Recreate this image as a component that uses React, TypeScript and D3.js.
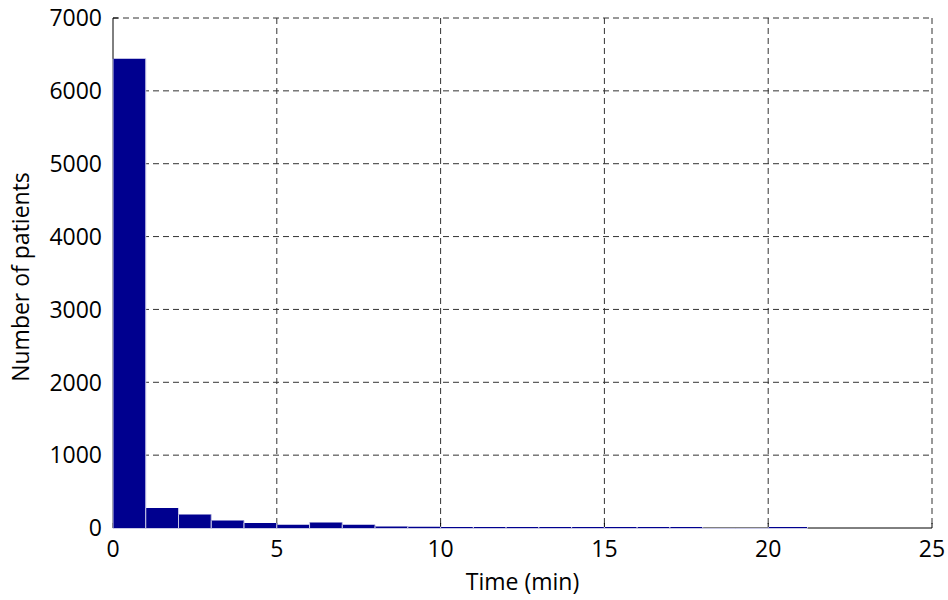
import React from "react";
import * as d3 from "d3";

// Histogram bin edges (minutes) and counts per bin
const binEdges: number[] = [0, 1, 2, 3, 4, 5, 6, 7, 8, 9, 10, 11, 12, 13, 14, 15, 16, 17, 18, 19, 20, 21.2];
const binCounts: number[] = [6440, 275, 185, 103, 70, 45, 75, 45, 20, 18, 15, 15, 15, 14, 14, 12, 12, 12, 0, 0, 12];
const xTicks: number[] = [0, 5, 10, 15, 20, 25];
const yTicks: number[] = [0, 1000, 2000, 3000, 4000, 5000, 6000, 7000];
const xLabel = "Time (min)";
const yLabel = "Number of patients";

const W = 948;
const H = 600;
const M = { left: 113, right: 932, top: 18, bottom: 528 };
const FONT = "'Open Sans', sans-serif";
const FS = 23;

export default function App() {
  const x = d3.scaleLinear().domain([0, 25]).range([M.left, M.right]);
  const y = d3.scaleLinear().domain([0, 7000]).range([M.bottom, M.top]);
  const gridColor = "#333";
  const tickLen = 5;
  const edgeColor = "#c8c8e6";

  const bars = binCounts.map((c, i) => {
    const x0 = x(binEdges[i]);
    const x1 = x(binEdges[i + 1]);
    const yb = M.bottom;
    const yt = c > 0 ? Math.min(y(c), M.bottom - 1) : M.bottom;
    const fill = d3.path();
    fill.rect(x0, yt, x1 - x0, yb - yt);
    const edge = d3.path();
    edge.moveTo(x0, yt);
    edge.lineTo(x0, yb + 0.5);
    edge.lineTo(x1, yb + 0.5);
    edge.lineTo(x1, yt);
    return { fill: fill.toString(), edge: edge.toString(), c };
  });

  return (
    <svg width={W} height={H} style={{ position: "absolute", left: 0, top: 0, background: "#fff" }}>
      <rect x={0} y={0} width={W} height={H} fill="#fff" />
      {/* grid */}
      {xTicks.filter((t) => t > 0).map((t) => (
        <line key={"gx" + t} x1={x(t)} x2={x(t)} y1={M.top} y2={M.bottom} stroke={gridColor} strokeWidth={1} strokeDasharray="6,4" />
      ))}
      {yTicks.filter((t) => t > 0).map((t) => (
        <line key={"gy" + t} x1={M.left} x2={M.right} y1={y(t)} y2={y(t)} stroke={gridColor} strokeWidth={1} strokeDasharray="6,4" />
      ))}
      {/* axes */}
      <line x1={M.left} x2={M.left} y1={M.top} y2={M.bottom} stroke="#000" strokeWidth={1} />
      <line x1={M.left} x2={M.right} y1={M.bottom} y2={M.bottom} stroke="#000" strokeWidth={1} />
      {yTicks.map((t) => (
        <line key={"ty" + t} x1={M.left} x2={M.left + tickLen} y1={y(t)} y2={y(t)} stroke="#000" />
      ))}
      {xTicks.map((t) => (
        <line key={"tx" + t} x1={x(t)} x2={x(t)} y1={M.bottom} y2={M.bottom - tickLen} stroke="#000" />
      ))}
      {/* bars */}
      {bars.map((b, i) => (
        <g key={"b" + i}>
          {b.c > 0 && <path d={b.fill} fill="#00008F" />}
          <path d={b.edge} fill="none" stroke={edgeColor} strokeWidth={1} />
        </g>
      ))}
      {/* tick labels */}
      {yTicks.map((t) => (
        <text key={"ly" + t} x={M.left - 11} y={y(t)} dy="0.36em" textAnchor="end" fontFamily={FONT} fontSize={FS} fill="#000">
          {t}
        </text>
      ))}
      {xTicks.map((t) => (
        <text key={"lx" + t} x={x(t)} y={557} textAnchor="middle" fontFamily={FONT} fontSize={FS} fill="#000">
          {t}
        </text>
      ))}
      <text x={(M.left + M.right) / 2} y={590} textAnchor="middle" fontFamily={FONT} fontSize={FS} fill="#000">
        {xLabel}
      </text>
      <text transform={`translate(29, ${(M.top + M.bottom) / 2 + 4}) rotate(-90)`} textAnchor="middle" fontFamily={FONT} fontSize={FS} fill="#000">
        {yLabel}
      </text>
    </svg>
  );
}
